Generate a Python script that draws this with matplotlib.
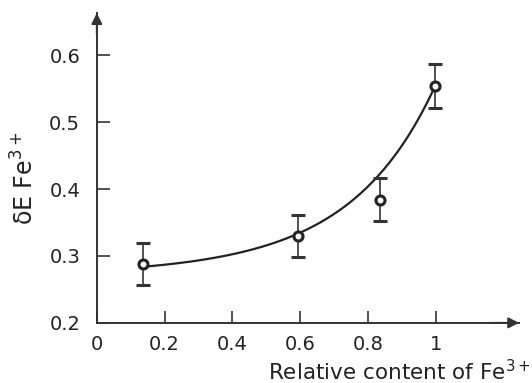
import numpy as np
import matplotlib
matplotlib.use("Agg")
import matplotlib.pyplot as plt

# measured points with error bars
content = [0.135, 0.594, 0.834, 0.997]
dE = [0.288, 0.330, 0.384, 0.554]
err = [0.031, 0.031, 0.032, 0.033]

# points along the hand-drawn trend curve
curve_x = [0.15, 0.39, 0.59, 0.72, 0.83, 0.91, 0.99]
curve_y = [0.284, 0.304, 0.330, 0.369, 0.416, 0.473, 0.552]
base = 0.27

xticks = [0, 0.2, 0.4, 0.6, 0.8, 1.0]
xticklabels = ["0", "0.2", "0.4", "0.6", "0.8", "1"]
yticks = [0.2, 0.3, 0.4, 0.5, 0.6]
yticklabels = ["0.2", "0.3", "0.4", "0.5", "0.6"]

plt.rcParams["font.family"] = ["DejaVu Sans"]

fig = plt.figure(figsize=(5.32, 3.83), dpi=100)
ax = fig.add_axes([0.182, 0.157, 0.794, 0.809])
ax.set_xlim(0, 1.246)
ax.set_ylim(0.2, 0.663)

# exponential-like trend through the traced points
p = np.polyfit(curve_x, np.log(np.array(curve_y) - base), 2)
fx = np.linspace(curve_x[0], curve_x[-1], 200)
ax.plot(fx, base + np.exp(np.polyval(p, fx)), color="#222222", lw=1.6)

ax.errorbar(content, dE, yerr=err, fmt="o", ms=6.5, mfc="white", mec="#222222",
            mew=2.2, ecolor="#333333", elinewidth=1.2, capsize=5, capthick=1.2)

for s in ["top", "right"]:
    ax.spines[s].set_visible(False)
for s in ["left", "bottom"]:
    ax.spines[s].set_linewidth(1.4)
    ax.spines[s].set_color("#333333")

# arrow heads on the axes
ax.annotate("", xy=(1.0, 0), xycoords="axes fraction", xytext=(0.93, 0),
            arrowprops=dict(arrowstyle="-|>", color="#333333", lw=1.4,
                            mutation_scale=16, shrinkA=0, shrinkB=0))
ax.annotate("", xy=(0, 1.0), xycoords="axes fraction", xytext=(0, 0.93),
            arrowprops=dict(arrowstyle="-|>", color="#333333", lw=1.4,
                            mutation_scale=16, shrinkA=0, shrinkB=0))

ax.set_xticks(xticks)
ax.set_xticklabels(xticklabels)
ax.set_yticks(yticks)
ax.set_yticklabels(yticklabels)
ax.tick_params(direction="in", length=9, width=1.2, color="#333333",
               labelsize=14, labelcolor="#222222")
ax.tick_params(axis="x", pad=9)
ax.tick_params(axis="y", pad=12)

fig.text(0.998, 0.03, "Relative content of Fe$^{3+}$", ha="right", va="center",
         fontsize=15.5, color="#222222")
fig.text(0.047, 0.535, "δE Fe$^{3+}$", ha="center", va="center", rotation=90,
         fontsize=17, color="#222222")

fig.savefig("out.png", dpi=100)
